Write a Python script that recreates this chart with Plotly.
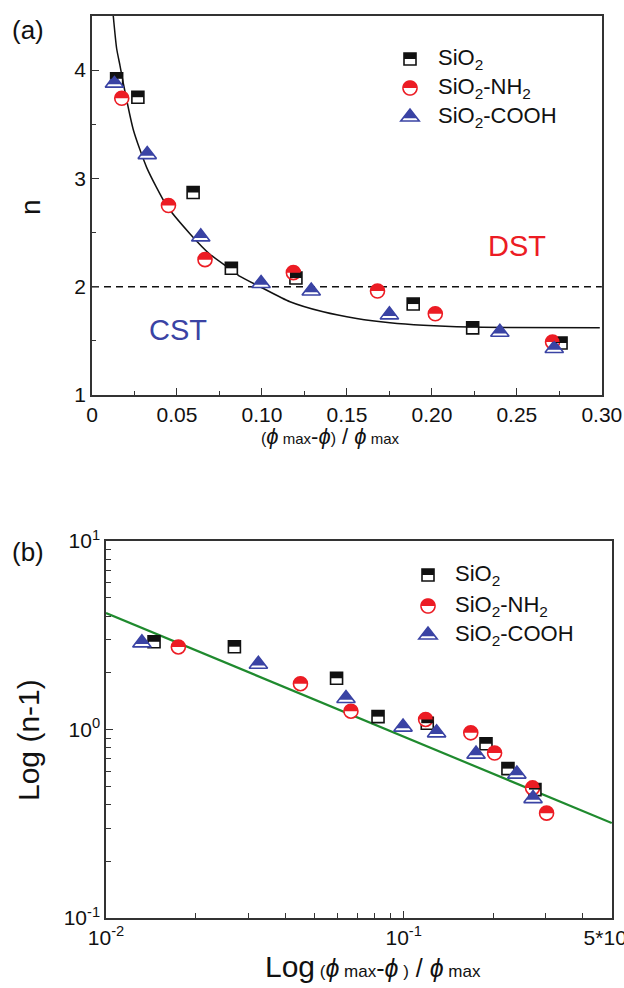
import math
import plotly.graph_objects as go

# ---------------- data ----------------
sio2_x = [0.0145, 0.027, 0.0595, 0.082, 0.120, 0.189, 0.224, 0.276]
sio2_n = [3.92, 3.75, 2.87, 2.17, 2.08, 1.84, 1.62, 1.48]

nh2_x = [0.0175, 0.045, 0.0665, 0.1185, 0.168, 0.202, 0.271, 0.302]
nh2_n = [3.74, 2.75, 2.25, 2.13, 1.96, 1.75, 1.49, 1.36]

cooh_x = [0.0132, 0.0325, 0.064, 0.0995, 0.129, 0.175, 0.240, 0.272]
cooh_n = [3.88, 3.22, 2.46, 2.03, 1.96, 1.74, 1.58, 1.43]

fit_a_x = [0.0124, 0.0145, 0.0165, 0.0184, 0.0243, 0.0322, 0.0439, 0.0576, 0.0694,
           0.0812, 0.0871, 0.0988, 0.1165, 0.136, 0.1557, 0.1753, 0.195, 0.2145, 0.244, 0.2988]
fit_a_n = [4.52, 4.20, 4.04, 3.88, 3.45, 3.10, 2.75, 2.49, 2.30,
           2.165, 2.095, 2.00, 1.861, 1.768, 1.707, 1.667, 1.643, 1.630, 1.624, 1.621]

threshold_x = [0.0, 0.30]
threshold_n = [2.0, 2.0]

fit_b_x = [0.01, 0.5]
fit_b_y = [4.15, 0.319]

x_a_ticks = [0, 0.05, 0.10, 0.15, 0.20, 0.25, 0.30]
x_a_labels = ["0", "0.05", "0.10", "0.15", "0.20", "0.25", "0.30"]
y_a_ticks = [1, 2, 3, 4]
x_b_ticks = [0.01, 0.1, 0.5]
x_b_labels = ["10<sup>-2</sup>", "10<sup>-1</sup>", "5*10<sup>-1</sup>"]
y_b_ticks = [0.1, 1, 10]
y_b_labels = ["10<sup>-1</sup>", "10<sup>0</sup>", "10<sup>1</sup>"]

names = ["SiO<sub>2</sub>", "SiO<sub>2</sub>-NH<sub>2</sub>", "SiO<sub>2</sub>-COOH"]

# ---------------- styles ----------------
FONT = "Liberation Sans, Arial, sans-serif"
BLACK = "#111111"
RED = "#ec1c24"
BLUE = "#3a43a4"
GREEN = "#1f8a2e"
AX = "#333333"

W, H = 624, 988
SQ, CI, TR = 12, 14, 16  # marker sizes


def glyph(kind, size, half):
    r = size / 2.0
    if kind == "square":
        if half:
            return f"M{-r},0 L{r},0 L{r},{r} L{-r},{r} Z"
        return f"M{-r},{-r} L{r},{-r} L{r},{r} L{-r},{r} Z"
    if kind == "circle":
        n = 24
        if half:
            pts = [(r * math.cos(math.pi * k / n), r * math.sin(math.pi * k / n)) for k in range(n + 1)]
        else:
            pts = [(r * math.cos(math.pi * k / n), r * math.sin(math.pi * k / n)) for k in range(2 * n)]
        return "M" + " L".join(f"{a:.2f},{b:.2f}" for a, b in pts) + " Z"
    # triangle-up (plotly geometry: base at -r/2, apex at r)
    rt = 2 * r / math.sqrt(3)
    if half:
        y0 = -0.15 * r
        w = rt * (r - y0) / (1.5 * r)
        return f"M{-w:.2f},{y0:.2f} L{w:.2f},{y0:.2f} L0,{r:.2f} Z"
    return f"M{-rt:.2f},{-r/2:.2f} L{rt:.2f},{-r/2:.2f} L0,{r:.2f} Z"


series = [
    (sio2_x, sio2_n, "square", SQ, BLACK),
    (nh2_x, nh2_n, "circle", CI, RED),
    (cooh_x, cooh_n, "triangle-up", TR, BLUE),
]

fig = go.Figure()
shapes = []

# fit curve & threshold (panel a)
fig.add_trace(go.Scatter(x=fit_a_x, y=fit_a_n, mode="lines",
                         line=dict(color=BLACK, width=1.5, shape="spline", smoothing=0.6),
                         xaxis="x", yaxis="y", showlegend=False, hoverinfo="skip"))
fig.add_trace(go.Scatter(x=threshold_x, y=threshold_n, mode="lines", line=dict(color=BLACK, width=1.5, dash="7px,5px"),
                         xaxis="x", yaxis="y", showlegend=False, hoverinfo="skip"))
# fit line (panel b)
fig.add_trace(go.Scatter(x=fit_b_x, y=fit_b_y, mode="lines", line=dict(color=GREEN, width=2.2),
                         xaxis="x2", yaxis="y2", showlegend=False, hoverinfo="skip"))

for xs, ns, sym, size, col in series:
    kind = "square" if sym == "square" else ("circle" if sym == "circle" else "tri")
    xa = [x for x in xs if x <= 0.30]
    na = [n for x, n in zip(xs, ns) if x <= 0.30]
    nb = [n - 1 for n in ns]
    for xv, yv, xr, yr in ((xa, na, "x", "y"), (xs, nb, "x2", "y2")):
        fig.add_trace(go.Scatter(x=xv, y=yv, mode="markers", xaxis=xr, yaxis=yr, showlegend=False,
                                 marker=dict(symbol=sym, size=size, color="white", line=dict(color=col, width=1.6))))
        for px_, py_ in zip(xv, yv):
            shapes.append(dict(type="path", xref=xr, yref=yr, xsizemode="pixel", ysizemode="pixel",
                               xanchor=px_, yanchor=py_, path=glyph(kind, size, True),
                               fillcolor=col, line=dict(width=0), layer="above"))

# ---------------- manual legends ----------------
annotations = []
legend_rows = [
    (410, [59, 88, 117], 436),
    (428, [575, 606, 635], 453),
]
for mx, rows, tx in legend_rows:
    for (xs, ns, sym, size, col), ry, name in zip(series, rows, names):
        kind = "square" if sym == "square" else ("circle" if sym == "circle" else "tri")
        for half, fill, lw in ((False, "white", 1.6), (True, col, 0)):
            shapes.append(dict(type="path", xref="paper", yref="paper", xsizemode="pixel", ysizemode="pixel",
                               xanchor=mx / W, yanchor=1 - ry / H, path=glyph(kind, size, half),
                               fillcolor=fill, line=dict(width=lw, color=col), layer="above"))
        annotations.append(dict(text=name, xref="paper", yref="paper", x=tx / W, y=1 - ry / H,
                                xanchor="left", yanchor="middle", showarrow=False,
                                font=dict(family=FONT, size=22, color=BLACK)))

# region labels
annotations.append(dict(text="CST", xref="x", yref="y", x=0.0506, y=1.6, showarrow=False,
                        font=dict(family=FONT, size=29, color=BLUE)))
annotations.append(dict(text="DST", xref="x", yref="y", x=0.25, y=2.38, showarrow=False,
                        font=dict(family=FONT, size=29, color=RED)))

# panel labels
annotations.append(dict(text="(a)", xref="paper", yref="paper", x=10 / W, y=1 - 30 / H, xanchor="left",
                        yanchor="middle", showarrow=False, font=dict(family=FONT, size=26, color=BLACK)))
annotations.append(dict(text="(b)", xref="paper", yref="paper", x=10 / W, y=1 - 552 / H, xanchor="left",
                        yanchor="middle", showarrow=False, font=dict(family=FONT, size=26, color=BLACK)))

# axis titles
phi = "<i>ϕ</i>"
def sm(t, s):
    return f'<span style="font-size:{s}px">{t}</span>'

title_a = sm("(", 16) + phi + sm(" max", 15) + "-" + phi + sm(")", 16) + " / " + phi + sm(" max", 15)
annotations.append(dict(text=title_a, xref="paper", yref="paper", x=330 / W, y=1 - 436 / H, xanchor="center",
                        yanchor="middle", showarrow=False, font=dict(family=FONT, size=22, color=BLACK)))
title_b = sm("Log", 30) + sm(" (", 17) + phi + sm(" max", 17) + "-" + phi + sm(" )", 17) + " / " + phi + sm(" max", 17)
annotations.append(dict(text=title_b, xref="paper", yref="paper", x=373 / W, y=1 - 966 / H, xanchor="center",
                        yanchor="middle", showarrow=False, font=dict(family=FONT, size=25, color=BLACK)))
annotations.append(dict(text="n", xref="paper", yref="paper", x=30 / W, y=1 - 207 / H, xanchor="center",
                        yanchor="middle", textangle=-90, showarrow=False, font=dict(family=FONT, size=28, color=BLACK)))
annotations.append(dict(text="Log (n-1)", xref="paper", yref="paper", x=28 / W, y=1 - 740 / H, xanchor="center",
                        yanchor="middle", textangle=-90, showarrow=False, font=dict(family=FONT, size=30, color=BLACK)))

axis_common = dict(showline=True, linecolor=AX, linewidth=1.5, mirror=True, ticks="inside", ticklen=7,
                   tickwidth=1.3, tickcolor=AX, showgrid=False, zeroline=False, automargin=False,
                   ticklabeloverflow="allow",
                   tickfont=dict(family=FONT, size=21, color=BLACK))

fig.update_layout(
    width=W, height=H, margin=dict(l=0, r=0, t=0, b=0, autoexpand=False), paper_bgcolor="white",
    plot_bgcolor="white", showlegend=False, shapes=shapes, annotations=annotations,
    xaxis=dict(domain=[92 / W, 602 / W], range=[0, 0.3001], tickvals=x_a_ticks, ticktext=x_a_labels,
               minor=dict(ticks="inside", ticklen=4, tickwidth=1.2, tickcolor=AX, dtick=0.025, tick0=0),
               anchor="y", **axis_common),
    yaxis=dict(domain=[1 - 395 / H, 1 - 16 / H], range=[1, 4.5], tickvals=y_a_ticks,
               minor=dict(ticks="inside", ticklen=4, tickwidth=1.2, tickcolor=AX, dtick=0.5, tick0=0),
               anchor="x", **axis_common),
    xaxis2=dict(domain=[106 / W, 612 / W], type="log", range=[-2, math.log10(0.5) + 0.0008], tickvals=x_b_ticks,
                ticktext=x_b_labels,
                minor=dict(ticks="inside", ticklen=5, tickwidth=1.2, tickcolor=AX,
                           tickvals=[0.02, 0.03, 0.04, 0.05, 0.06, 0.07, 0.08, 0.09, 0.2, 0.3, 0.4]),
                anchor="y2", **axis_common),
    yaxis2=dict(domain=[1 - 918 / H, 1 - 541 / H], type="log", range=[-1, 1], tickvals=y_b_ticks,
                ticktext=y_b_labels,
                minor=dict(ticks="inside", ticklen=5, tickwidth=1.2, tickcolor=AX,
                           tickvals=[0.2, 0.3, 0.4, 0.5, 0.6, 0.7, 0.8, 0.9, 2, 3, 4, 5, 6, 7, 8, 9]),
                anchor="x2", **axis_common),
)

fig.write_html("out.html", config={"displayModeBar": False},
               post_script="document.body.style.margin='0px';document.body.style.overflow='hidden';")
